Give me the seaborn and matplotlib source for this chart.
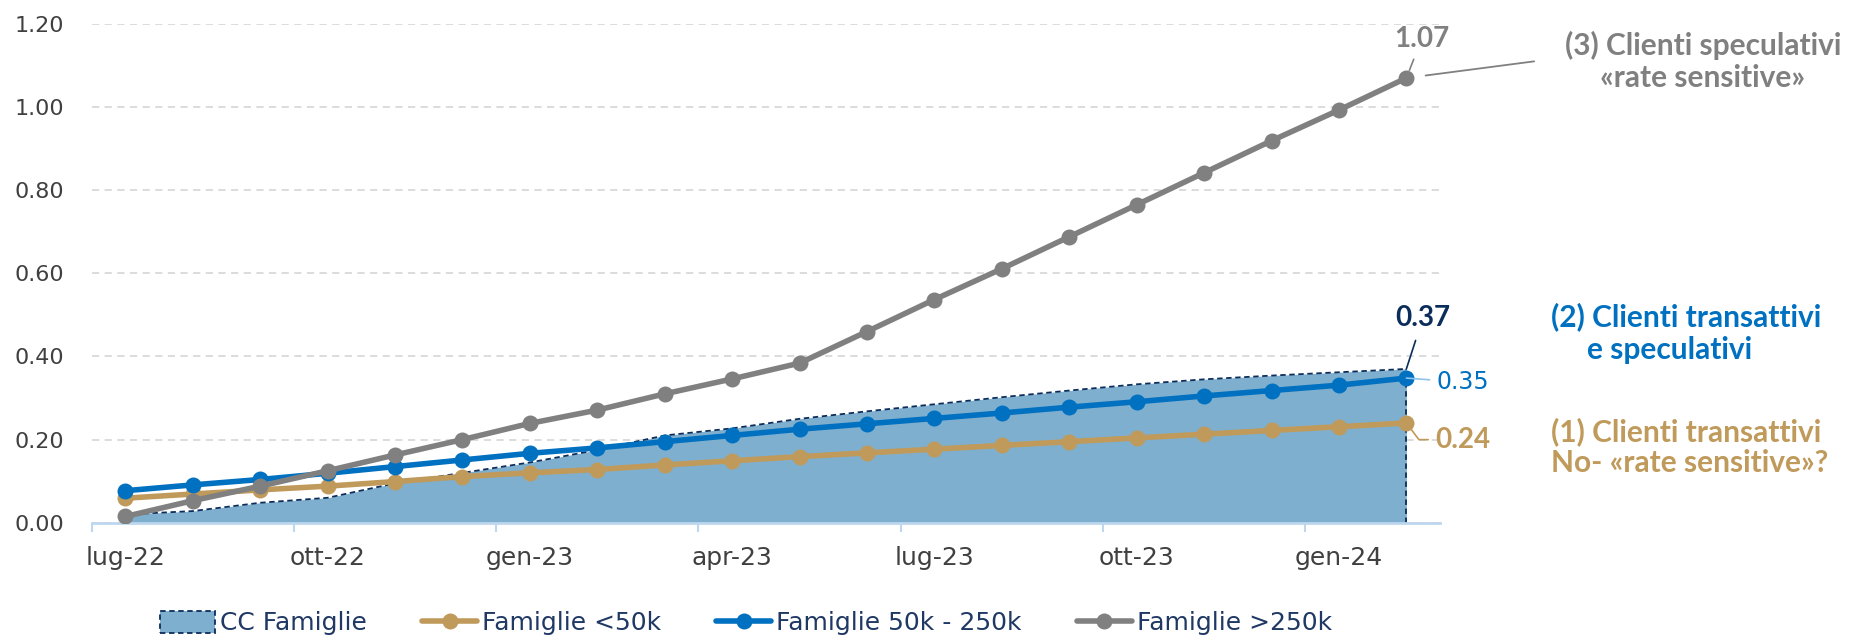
import matplotlib
matplotlib.use("Agg")
import matplotlib.pyplot as plt
import seaborn as sns
from matplotlib.patches import Patch
from matplotlib.lines import Line2D

sns.set_theme(style="white")
plt.rcParams['font.family'] = ['DejaVu Sans']

# monthly series, lug-22 .. feb-24
months = ['lug-22', 'ago-22', 'set-22', 'ott-22', 'nov-22', 'dic-22',
          'gen-23', 'feb-23', 'mar-23', 'apr-23', 'mag-23', 'giu-23',
          'lug-23', 'ago-23', 'set-23', 'ott-23', 'nov-23', 'dic-23',
          'gen-24', 'feb-24']
cc_famiglie = [0.020, 0.028, 0.048, 0.060, 0.095, 0.120, 0.145, 0.175, 0.210, 0.227,
               0.250, 0.268, 0.285, 0.302, 0.318, 0.333, 0.345, 0.354, 0.362, 0.370]
fam_lt50 = [0.059, 0.069, 0.079, 0.088, 0.099, 0.111, 0.120, 0.128, 0.139, 0.149,
            0.159, 0.168, 0.177, 0.186, 0.195, 0.204, 0.213, 0.222, 0.231, 0.240]
fam_50_250 = [0.077, 0.091, 0.104, 0.119, 0.135, 0.151, 0.167, 0.180, 0.195, 0.210,
              0.225, 0.238, 0.251, 0.264, 0.278, 0.291, 0.305, 0.318, 0.331, 0.348]
fam_gt250 = [0.015, 0.053, 0.088, 0.125, 0.163, 0.200, 0.239, 0.271, 0.310, 0.346,
             0.384, 0.460, 0.537, 0.611, 0.688, 0.765, 0.842, 0.919, 0.993, 1.070]

series_names = ['CC Famiglie', 'Famiglie <50k', 'Famiglie 50k - 250k', 'Famiglie >250k']
y_ticks = [0.0, 0.2, 0.4, 0.6, 0.8, 1.0, 1.2]
label_every = 3

AREA = '#7FAFCE'
NAVY = '#0B2D5B'
TAN = '#C09A5B'
BLUE = '#0070C0'
GRAY = '#808080'
AXIS_BLUE = '#BDD7EE'
BOLD_FONT = ['Lato', 'DejaVu Sans']

x = list(range(len(months)))

fig, ax = plt.subplots(figsize=(18.56, 6.38), dpi=100)
fig.subplots_adjust(left=0.0494, right=0.7759, bottom=0.1807, top=0.9624)

# area + dashed outline
ax.fill_between(x, 0, cc_famiglie, color=AREA, lw=0, zorder=1)
ax.plot(x, cc_famiglie, color=NAVY, lw=1.3, ls=(0, (3, 2)), zorder=2)
ax.vlines(x[-1], 0, cc_famiglie[-1], color=NAVY, lw=1.3, ls=(0, (3, 2)), zorder=2)

for vals, col in [(fam_lt50, TAN), (fam_50_250, BLUE), (fam_gt250, GRAY)]:
    sns.lineplot(x=x, y=vals, ax=ax, color=col, lw=4, marker='o',
                 markersize=11.5, markeredgewidth=0, zorder=3)

ax.set_xlim(-0.5, len(months) - 0.5)
ax.set_ylim(0, 1.2)
ax.set_yticks(y_ticks)
ax.set_yticklabels([f'{v:.2f}' for v in y_ticks], fontsize=16, color='#404040')
ax.yaxis.grid(True, color='#D9D9D9', ls=(0, (4, 3)), lw=1.3)
ax.set_axisbelow(True)
ax.tick_params(axis='y', length=0, pad=20)

lab_pos = x[::label_every]
ax.set_xticks(lab_pos)
ax.set_xticklabels(months[::label_every], fontsize=18, color='#404040')
ax.set_xticks([p - 0.5 for p in lab_pos], minor=True)
ax.tick_params(axis='x', which='major', length=0, pad=17)
ax.tick_params(axis='x', which='minor', length=6.5, width=1.5, color=AXIS_BLUE, bottom=True)

for s in ['top', 'right', 'left']:
    ax.spines[s].set_visible(False)
ax.spines['bottom'].set_color(AXIS_BLUE)
ax.spines['bottom'].set_linewidth(2)
ax.set_xlabel('')
ax.set_ylabel('')

# end labels
last = x[-1]
ax.annotate(f'{fam_gt250[-1]:.2f}', xy=(last, fam_gt250[-1]), xytext=(11, 28),
            textcoords='offset points', ha='center', va='center', fontsize=20,
            fontweight='bold', color=GRAY, family=BOLD_FONT,
            arrowprops=dict(arrowstyle='-', color=GRAY, lw=1.2, shrinkA=3, shrinkB=6),
            annotation_clip=False)
ax.annotate('', xy=(last, fam_gt250[-1]), xytext=(92, 12), textcoords='offset points',
            arrowprops=dict(arrowstyle='-', color=GRAY, lw=1.3, shrinkA=0, shrinkB=14),
            annotation_clip=False)
ax.annotate(f'{cc_famiglie[-1]:.2f}', xy=(last, cc_famiglie[-1]), xytext=(12, 37),
            textcoords='offset points', ha='center', va='center', fontsize=20,
            fontweight='bold', color=NAVY, family=BOLD_FONT,
            arrowprops=dict(arrowstyle='-', color=NAVY, lw=1.2, shrinkA=5, shrinkB=0),
            annotation_clip=False)
ax.annotate(f'{fam_50_250[-1]:.2f}', xy=(last, fam_50_250[-1]), xytext=(41, -3),
            textcoords='offset points', ha='center', va='center', fontsize=17,
            color=BLUE,
            arrowprops=dict(arrowstyle='-', color='#8FC3EA', lw=1.2, shrinkA=3, shrinkB=0),
            annotation_clip=False)
ax.annotate(f'{fam_lt50[-1]:.2f}', xy=(last, fam_lt50[-1]), xytext=(41, -12),
            textcoords='offset points', ha='center', va='center', fontsize=20,
            fontweight='bold', color=TAN, family=BOLD_FONT,
            arrowprops=dict(arrowstyle='-', color=TAN, lw=1.2, shrinkA=3, shrinkB=0,
                            connectionstyle='angle,angleA=0,angleB=-53,rad=0'),
            annotation_clip=False)

# side commentary
W, H = 1856, 638
def ftxt(px, py, s, col, ha='center'):
    fig.text(px / W, 1 - py / H, s, color=col, fontsize=21.5, fontweight='bold',
             family=BOLD_FONT, ha=ha, va='center')

ftxt(1703, 45, '(3) Clienti speculativi', GRAY)
ftxt(1703, 78, '«rate sensitive»', GRAY)
ftxt(1686, 317, '(2) Clienti transattivi', BLUE)
ftxt(1670, 350, 'e speculativi', BLUE)
ftxt(1551, 432, '(1) Clienti transattivi', TAN, ha='left')
ftxt(1551, 463, 'No- «rate sensitive»?', TAN, ha='left')

handles = [Patch(facecolor=AREA, edgecolor=NAVY, ls=(0, (3, 2)), lw=1.3),
           Line2D([], [], color=TAN, lw=4, marker='o', markersize=11.5, markeredgewidth=0),
           Line2D([], [], color=BLUE, lw=4, marker='o', markersize=11.5, markeredgewidth=0),
           Line2D([], [], color=GRAY, lw=4, marker='o', markersize=11.5, markeredgewidth=0)]
leg = fig.legend(handles, series_names, loc='center', bbox_to_anchor=(746 / W, 1 - 623 / H),
                 ncol=4, frameon=False, fontsize=18, handlelength=2.2, handleheight=1.0,
                 handletextpad=0.2, columnspacing=2.2)
for t in leg.get_texts():
    t.set_color('#1F3864')

fig.savefig('out.png', dpi=100)
